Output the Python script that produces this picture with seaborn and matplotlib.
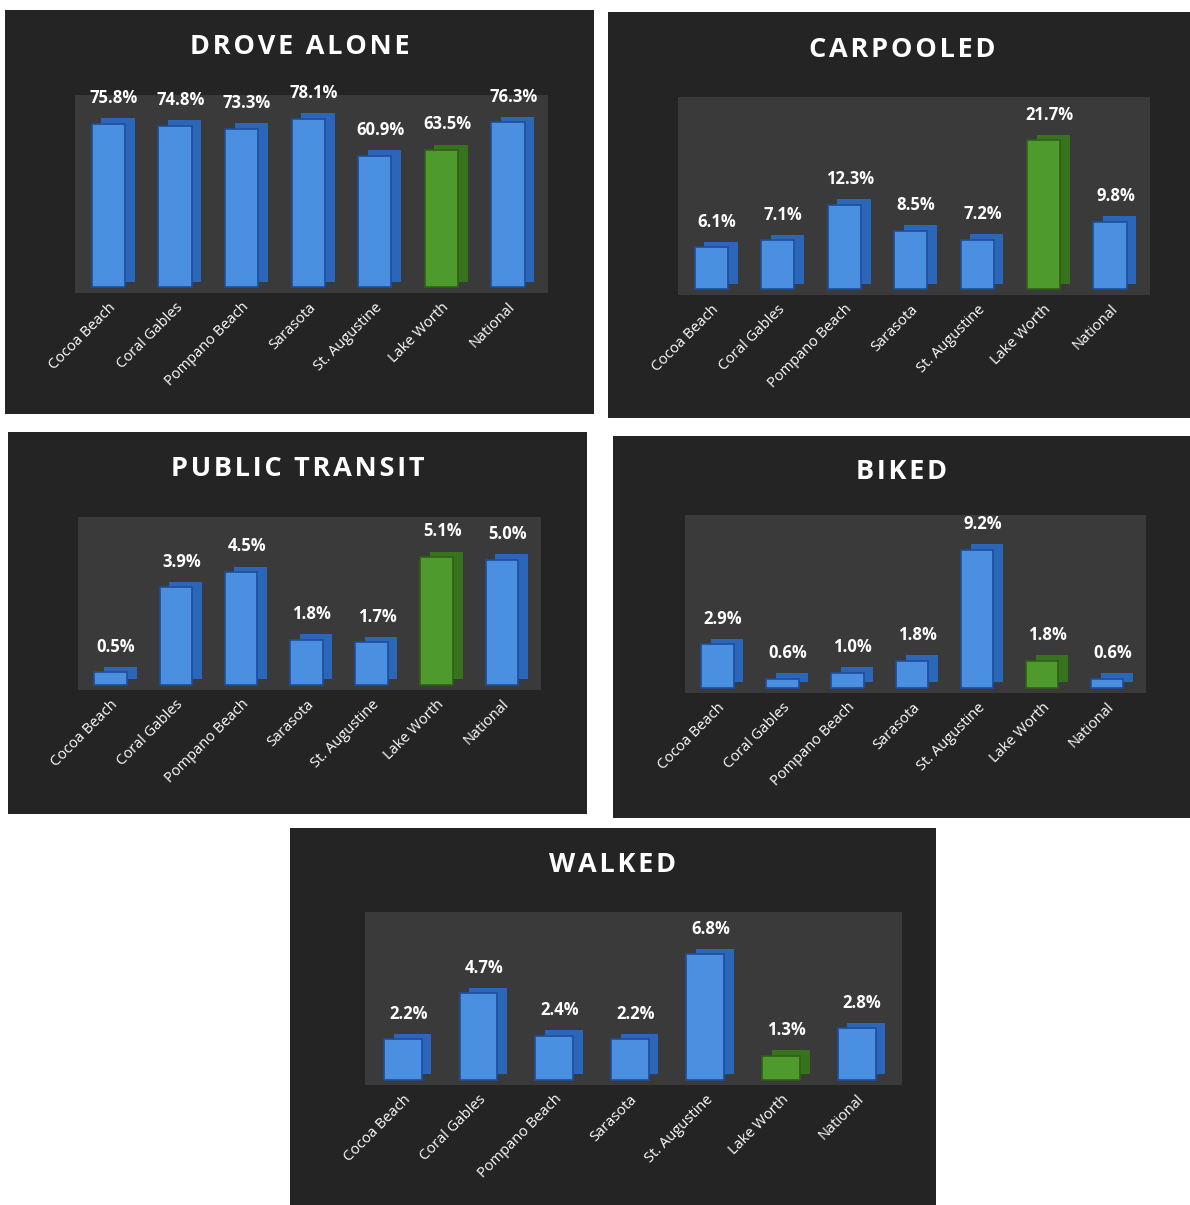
import matplotlib
matplotlib.use("Agg")
import matplotlib.pyplot as plt
import matplotlib.patheffects as pe
import seaborn as sns
import pandas as pd

# Data
cities = ["Cocoa Beach", "Coral Gables", "Pompano Beach", "Sarasota",
          "St. Augustine", "Lake Worth", "National"]
drove_alone = [75.8, 74.8, 73.3, 78.1, 60.9, 63.5, 76.3]
carpooled = [6.1, 7.1, 12.3, 8.5, 7.2, 21.7, 9.8]
public_transit = [0.5, 3.9, 4.5, 1.8, 1.7, 5.1, 5.0]
biked = [2.9, 0.6, 1.0, 1.8, 9.2, 1.8, 0.6]
walked = [2.2, 4.7, 2.4, 2.2, 6.8, 1.3, 2.8]

titles = ["DROVE ALONE", "CARPOOLED", "PUBLIC TRANSIT", "BIKED", "WALKED"]
series = [drove_alone, carpooled, public_transit, biked, walked]
ymax = [89, 28, 6.7, 11.5, 9.1]

BLUE, BLUE_SIDE = "#4a8fe0", "#2c66b8"
GREEN, GREEN_SIDE = "#4f9a2c", "#37721c"
colors = [GREEN if c == "Lake Worth" else BLUE for c in cities]

W, H = 1190, 1205
# panel boxes and inner plot boxes in pixels (x0, y0, x1, y1)
panels = [(5, 10, 594, 414), (608, 12, 1190, 418), (8, 432, 587, 814),
          (613, 436, 1190, 818), (290, 828, 936, 1205)]
boxes = [(75, 95, 548, 293), (678, 97, 1150, 295), (78, 517, 541, 690),
         (685, 515, 1146, 693), (365, 912, 902, 1085)]
title_pos = [(300, 47), (902, 50), (298, 469), (902, 472), (613, 865)]

sns.set_theme(style="dark")
plt.rcParams["font.family"] = ["Open Sans", "DejaVu Sans"]


def rect(b):
    x0, y0, x1, y1 = b
    return [x0 / W, 1 - y1 / H, (x1 - x0) / W, (y1 - y0) / H]


def spaced(s):
    # wide letter spacing like the original titles
    return "\u200a".join(s)


fig = plt.figure(figsize=(W / 100, H / 100), dpi=100, facecolor="white")

for i in range(5):
    bg = fig.add_axes(rect(panels[i]), facecolor="#242424")
    bg.set_xticks([])
    bg.set_yticks([])
    for s in bg.spines.values():
        s.set_visible(False)

    ax = fig.add_axes(rect(boxes[i]), facecolor="#3a3a3a")
    df = pd.DataFrame({"city": cities, "value": series[i]})
    sns.barplot(data=df, x="city", y="value", hue="city", palette=colors,
                legend=False, width=0.5, ax=ax, edgecolor="#1d4e9c",
                linewidth=1.2, saturation=1)
    for patch, c in zip(ax.patches, colors):
        side = GREEN_SIDE if c == GREEN else BLUE_SIDE
        if c == GREEN:
            patch.set_edgecolor("#2f5f18")
        patch.set_path_effects([
            pe.SimplePatchShadow(offset=(7, 4), shadow_rgbFace=side, alpha=1.0),
            pe.Normal()])
    for cont in ax.containers:
        texts = ax.bar_label(cont, labels=[f"{v:.1f}%" for v in cont.datavalues],
                             padding=12, color="white", fontsize=12,
                             fontweight="bold")
        for t in texts:
            t.xyann = (4, 12)
    ax.set_ylim(-0.03 * ymax[i], ymax[i])
    ax.set_xlim(-0.5, 6.6)
    ax.set_yticks([])
    ax.set_xlabel("")
    ax.set_ylabel("")
    ax.tick_params(axis="x", length=0, pad=5)
    ax.set_xticks(range(len(cities)))
    ax.set_xticklabels(cities, rotation=45, ha="right", rotation_mode="anchor",
                       color="white", fontsize=10.5)
    for s in ax.spines.values():
        s.set_visible(False)
    ax.grid(False)

    tx, ty = title_pos[i]
    fig.text(tx / W, 1 - ty / H, spaced(titles[i]), ha="center", va="center",
             color="white", fontsize=19.5, fontweight="bold")

fig.savefig("out.png", dpi=100, facecolor="white")
